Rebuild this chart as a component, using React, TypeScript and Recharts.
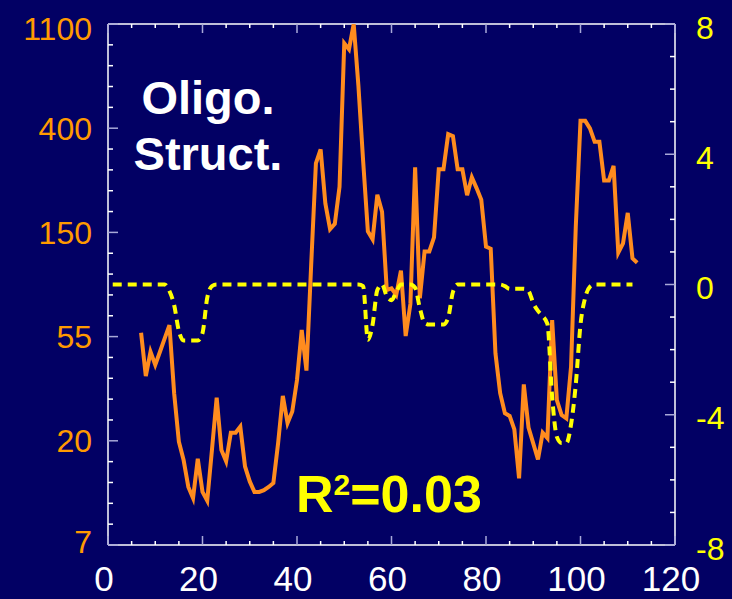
import React from 'react';
import { LineChart, Line, XAxis, YAxis, ReferenceLine } from 'recharts';

// ---- data ----
const orangeStart = 7;
const orangeValues = [
  56.7, 37.4, 47.2, 41.6, 47.2, 53.7, 61.0, 31.7, 19.9, 16.7,
  12.9, 11.6, 16.9, 12.3, 11.3, 18.4, 30.4, 18.4, 16.5, 21.7,
  21.7, 23.0, 15.7, 13.6, 12.3, 12.3, 12.5, 12.9, 13.4, 19.6,
  30.9, 23.8, 26.6, 36.0, 58.2, 39.4, 108.6, 288, 329, 196,
  153, 161, 230, 911, 860, 1096, 605, 294, 150, 139,
  213, 181, 85.4, 86.8, 81.4, 102.8, 54.9, 74.7, 277, 78.9,
  123.6, 123.6, 141.4, 272, 272, 381, 374, 272, 272, 212,
  252, 227, 203, 129.4, 126.9, 46.5, 31.7, 26.2, 25.5, 22.4,
  14.0, 34.5, 22.8, 19.6, 16.8, 21.7, 20.6, 64.0, 29.7, 25.7,
  24.9, 40.9, 156.7, 433, 433, 403, 354, 354, 244, 244,
  281, 122.2, 133.7, 179, 115.7, 110.9,
];

const yellowStart = 1;
const yellowValues = [
  0, 0, 0, 0, 0, 0, 0, 0, 0, 0, 0, 0,
  -0.2, -0.63, -1.43, -1.72, -1.72, -1.72, -1.72, -1.49, -0.41, -0.05,
  0, 0, 0, 0, 0, 0, 0, 0, 0, 0, 0, 0, 0, 0, 0, 0, 0, 0, 0, 0, 0, 0, 0, 0, 0, 0, 0, 0, 0, 0, 0,
  -0.05, -1.7, -1.23, -0.17, 0, -0.36, -0.48, -0.23,
  0, 0, 0,
  -0.1, -0.72, -1.18, -1.23, -1.23, -1.23, -1.23, -1.02, -0.23,
  0, 0, 0, 0, 0, 0, 0, 0, 0, 0,
  -0.05, -0.13, -0.13, -0.13, -0.13, -0.2, -0.57, -0.81, -0.97, -1.21,
  -3.45, -4.68, -4.87, -4.87, -4.3, -3.07, -1.23, -0.4, -0.07,
  0, 0, 0, 0, 0, 0, 0, 0, 0,
];

const xTickValues = [0, 5, 10, 15, 20, 25, 30, 35, 40, 45, 50, 55, 60, 65, 70, 75, 80, 85, 90, 95, 100, 105, 110, 115, 120];
const xTickLabels = ['0', '20', '40', '60', '80', '100', '120'];
const leftTickLabels = ['7', '20', '55', '150', '400', '1100'];
const rightTickValues = [-8, -7, -6, -5, -4, -3, -2, -1, 0, 1, 2, 3, 4, 5, 6, 7, 8];
const rightTickLabels = ['-8', '-4', '0', '4', '8'];

// ---- build rows ----
const rowMap = new Map<number, any>();
orangeValues.forEach((v, i) => {
  const u = orangeStart + i;
  rowMap.set(u, { ...(rowMap.get(u) || { u }), orange: v });
});
yellowValues.forEach((v, i) => {
  const u = yellowStart + i;
  rowMap.set(u, { ...(rowMap.get(u) || { u }), yellow: v });
});
const rows = Array.from(rowMap.values()).sort((a, b) => a.u - b.u);

// log-axis ticks (natural-log spaced, 5 minor per major)
const leftTickValues: number[] = [];
for (let k = 0; k <= 25; k++) leftTickValues.push(Math.exp(2 + k / 5));

const BG = '#020064';
const ORANGE = '#FF8C1E';
const ORANGE_TXT = '#FF9A00';
const YELLOW = '#FFFF00';
const MAJOR_TICK = '#A8A8D8';
const FONT = '"Liberation Sans", Arial, Helvetica, sans-serif';
const PLOT_H = 521;

const XTick = (props: any) => {
  const { x, y, payload } = props;
  const v = payload.value;
  const major = v % 20 === 0;
  const len = major ? 9 : 4;
  const col = major ? MAJOR_TICK : '#FFFFFF';
  return (
    <g>
      <line x1={x} y1={y} x2={x} y2={y - len} stroke={col} strokeWidth={1.5} />
      <line x1={x} y1={y - PLOT_H} x2={x} y2={y - PLOT_H + len} stroke={col} strokeWidth={1.5} />
      {major && (
        <text x={x - 4} y={y + 46} fill="#FFFFFF" fontSize={35} textAnchor="middle" fontFamily={FONT}>
          {xTickLabels[v / 20]}
        </text>
      )}
    </g>
  );
};

const LeftTick = (props: any) => {
  const { x, y, index } = props;
  const major = index % 5 === 0;
  const len = major ? 10 : 5;
  const col = major ? MAJOR_TICK : '#FFFFFF';
  const off = index === 0 ? -4 : index === 25 ? 4 : 0;
  return (
    <g>
      <line x1={x} y1={y} x2={x + len} y2={y} stroke={col} strokeWidth={1.5} />
      {major && (
        <text x={x - 16} y={y + off} dy="0.36em" fill={ORANGE_TXT} fontSize={32} textAnchor="end" fontFamily={FONT}>
          {leftTickLabels[index / 5]}
        </text>
      )}
    </g>
  );
};

const RightTick = (props: any) => {
  const { x, y, payload } = props;
  const v = payload.value;
  const major = v % 4 === 0;
  const len = major ? 10 : 5;
  const col = major ? MAJOR_TICK : '#FFFFFF';
  return (
    <g>
      <line x1={x} y1={y} x2={x - len} y2={y} stroke={col} strokeWidth={1.5} />
      {major && (
        <text x={x + 21} y={y + 3} dy="0.36em" fill={YELLOW} fontSize={32} textAnchor="start" fontFamily={FONT}>
          {rightTickLabels[(v + 8) / 4]}
        </text>
      )}
    </g>
  );
};

export default function App() {
  return (
    <div style={{ position: 'absolute', left: 0, top: 0, width: 732, height: 599, background: BG, overflow: 'hidden' }}>
      <LineChart width={732} height={599} data={rows} margin={{ top: 24, right: 0, bottom: 0, left: 8 }}>
        <XAxis
          dataKey="u"
          type="number"
          domain={[0, 120]}
          ticks={xTickValues}
          interval={0}
          tickLine={false}
          tickSize={0}
          tickMargin={0}
          height={54}
          axisLine={{ stroke: '#FFFFFF', strokeWidth: 1.5 }}
          tick={<XTick />}
          allowDataOverflow
        />
        <YAxis
          yAxisId="left"
          orientation="left"
          scale="log"
          type="number"
          domain={[Math.exp(2), Math.exp(7)]}
          ticks={leftTickValues}
          interval={0}
          tickLine={false}
          tickSize={0}
          tickMargin={0}
          width={100}
          axisLine={{ stroke: '#FFFFFF', strokeWidth: 1.5 }}
          tick={<LeftTick />}
          allowDataOverflow
        />
        <YAxis
          yAxisId="right"
          orientation="right"
          type="number"
          domain={[-8, 8]}
          ticks={rightTickValues}
          interval={0}
          tickLine={false}
          tickSize={0}
          tickMargin={0}
          width={57}
          axisLine={{ stroke: '#FFFFFF', strokeWidth: 1.5 }}
          tick={<RightTick />}
          allowDataOverflow
        />
        <ReferenceLine yAxisId="right" y={8} stroke="#FFFFFF" strokeWidth={1.5} />
        <Line
          yAxisId="left"
          dataKey="orange"
          type="linear"
          stroke={ORANGE}
          strokeWidth={4}
          dot={false}
          activeDot={false}
          connectNulls={false}
          isAnimationActive={false}
        />
        <Line
          yAxisId="right"
          dataKey="yellow"
          type="monotone"
          stroke={YELLOW}
          strokeWidth={4}
          strokeDasharray="9 6"
          dot={false}
          activeDot={false}
          connectNulls={false}
          isAnimationActive={false}
        />
      </LineChart>
      <svg width={732} height={599} style={{ position: 'absolute', left: 0, top: 0, pointerEvents: 'none' }}>
        <text x={208} y={114} fill="#FFFFFF" fontSize={47} fontWeight="bold" textAnchor="middle" fontFamily={FONT}>
          Oligo.
        </text>
        <text x={208} y={170} fill="#FFFFFF" fontSize={47} fontWeight="bold" textAnchor="middle" fontFamily={FONT}>
          Struct.
        </text>
        <text x={296} y={512} fill={YELLOW} fontSize={52} fontWeight="bold" fontFamily={FONT}>
          R<tspan fontSize={30} dy={-17}>2</tspan><tspan dy={17}>=0.03</tspan>
        </text>
      </svg>
    </div>
  );
}
